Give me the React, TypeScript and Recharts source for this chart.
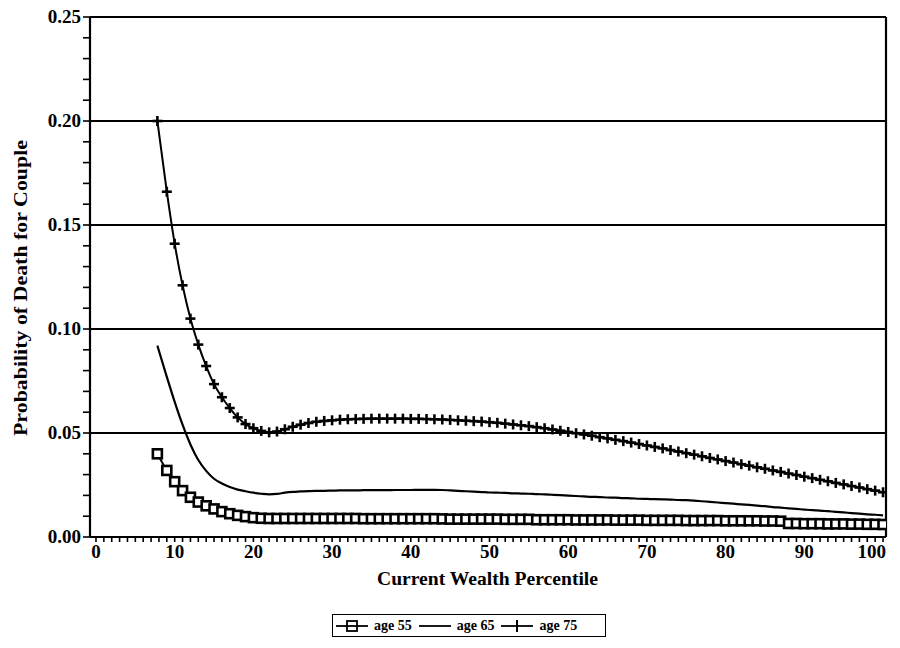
import React from 'react';
import { LineChart, Line, XAxis, YAxis, ReferenceLine } from 'recharts';

const FONT = '"Liberation Serif", "Times New Roman", serif';

// Current wealth percentile (x)
const xs = [7.8, 9, 10, 11, 12, 13, 14, 15, 16, 17, 18, 19, 20, 21, 22, 23, 24, 25, 26, 27, 28, 29, 30,
  31, 32, 33, 34, 35, 36, 37, 38, 39, 40, 41, 42, 43, 44, 45, 46, 47, 48, 49, 50,
  51, 52, 53, 54, 55, 56, 57, 58, 59, 60, 61, 62, 63, 64, 65, 66, 67, 68, 69, 70,
  71, 72, 73, 74, 75, 76, 77, 78, 79, 80, 81, 82, 83, 84, 85, 86, 87, 88, 89, 90,
  91, 92, 93, 94, 95, 96, 97, 98, 99, 100];

const age55 = [0.0400, 0.0320, 0.0266, 0.0223, 0.0191, 0.0168, 0.0150, 0.0135, 0.0122, 0.0112, 0.0104, 0.0098, 0.0093,
  0.0090, 0.0089, 0.0089, 0.0089, 0.0089, 0.0089, 0.0089, 0.0089, 0.0089, 0.0089,
  0.0089, 0.0089, 0.0089, 0.0088, 0.0088, 0.0088, 0.0088, 0.0088, 0.0088, 0.0088, 0.0088, 0.0088, 0.0088, 0.0087, 0.0086, 0.0086, 0.0086, 0.0086, 0.0086, 0.0086,
  0.0086, 0.0085, 0.0085, 0.0085, 0.0085, 0.0083, 0.0083, 0.0083, 0.0083, 0.0083, 0.0082, 0.0082, 0.0082, 0.0082, 0.0082, 0.0081, 0.0081, 0.0081, 0.0081, 0.0080,
  0.0080, 0.0080, 0.0080, 0.0080, 0.0079, 0.0079, 0.0079, 0.0079, 0.0079, 0.0078, 0.0078, 0.0078, 0.0078, 0.0078, 0.0077, 0.0077, 0.0076, 0.0065, 0.0065, 0.0064,
  0.0064, 0.0064, 0.0063, 0.0063, 0.0063, 0.0062, 0.0062, 0.0061, 0.0061, 0.0060];

const age65 = [0.092, 0.077, 0.065, 0.054, 0.0445, 0.037, 0.0318, 0.0280, 0.0257, 0.0240, 0.0228, 0.0220, 0.0213,
  0.0208, 0.0205, 0.0207, 0.0213, 0.0217, 0.0219, 0.0221, 0.0222, 0.0222, 0.0223,
  0.0224, 0.0224, 0.0224, 0.0225, 0.0225, 0.0225, 0.0225, 0.0226, 0.0226, 0.0226, 0.0227, 0.0227, 0.0227, 0.0226, 0.0224, 0.0222, 0.0220, 0.0218, 0.0216, 0.0214,
  0.0213, 0.0212, 0.0210, 0.0209, 0.0208, 0.0206, 0.0205, 0.0203, 0.0201, 0.0199, 0.0197, 0.0195, 0.0193, 0.0192, 0.0190, 0.0189, 0.0187, 0.0186, 0.0184, 0.0183,
  0.0182, 0.0181, 0.0180, 0.0178, 0.0177, 0.0175, 0.0172, 0.0169, 0.0166, 0.0163, 0.0160, 0.0157, 0.0154, 0.0151, 0.0148, 0.0144, 0.0141, 0.0138, 0.0135, 0.0132,
  0.0129, 0.0127, 0.0124, 0.0121, 0.0118, 0.0115, 0.0112, 0.0109, 0.0107, 0.0104];

const age75 = [0.200, 0.166, 0.141, 0.121, 0.105, 0.0925, 0.0822, 0.0735, 0.0672, 0.0620, 0.0575, 0.0543, 0.0523,
  0.0510, 0.0503, 0.0507, 0.0518, 0.0530, 0.0540, 0.0548, 0.0554, 0.0558, 0.0561,
  0.0564, 0.0566, 0.0567, 0.0568, 0.0569, 0.0569, 0.0569, 0.0569, 0.0569, 0.0568, 0.0568, 0.0567, 0.0566, 0.0565, 0.0563, 0.0561, 0.0559, 0.0557, 0.0555, 0.0552,
  0.0549, 0.0545, 0.0541, 0.0537, 0.0533, 0.0528, 0.0523, 0.0517, 0.0511, 0.0505, 0.0499, 0.0493, 0.0487, 0.0480, 0.0474, 0.0467, 0.0461, 0.0454, 0.0447, 0.0440,
  0.0433, 0.0426, 0.0418, 0.0411, 0.0403, 0.0396, 0.0388, 0.0380, 0.0373, 0.0365, 0.0358, 0.0350, 0.0343, 0.0335, 0.0328, 0.0320, 0.0313, 0.0305, 0.0298, 0.0290,
  0.0283, 0.0275, 0.0268, 0.0260, 0.0253, 0.0245, 0.0238, 0.0230, 0.0223, 0.0215];

const seriesNames = ['age 55', 'age 65', 'age 75'];
const xTickLabels = [0, 10, 20, 30, 40, 50, 60, 70, 80, 90, 100];
const yTickLabels = [0, 0.05, 0.1, 0.15, 0.2, 0.25];
const gridValues = [0.05, 0.1, 0.15, 0.2, 0.25];
const xMinorTicks = Array.from({ length: 101 }, (_, i) => i);
const yMinorTicks = Array.from({ length: 26 }, (_, i) => i / 100);

const X_MIN = -0.76;
const X_MAX = 100.38;

const data = xs.map((x, i) => ({ x, a55: age55[i], a65: age65[i], a75: age75[i] }));

const SquareDot = (p: any) => {
  if (p.cx == null || p.cy == null) return <g key={`s${p.index}`} />;
  return (
    <rect key={`s${p.index}`} x={p.cx - 4.5} y={p.cy - 4.5} width={9} height={9}
      fill="#fff" stroke="#000" strokeWidth={2.6} />
  );
};

const PlusDot = (p: any) => {
  if (p.cx == null || p.cy == null) return <g key={`p${p.index}`} />;
  return (
    <g key={`p${p.index}`}>
      <line x1={p.cx - 5} x2={p.cx + 5} y1={p.cy} y2={p.cy} stroke="#000" strokeWidth={2.6} />
      <line x1={p.cx} x2={p.cx} y1={p.cy - 5} y2={p.cy + 5} stroke="#000" strokeWidth={2.6} />
    </g>
  );
};

const isLabelX = (v: number) => xTickLabels.some((t) => Math.abs(t - v) < 1e-9);
const isLabelY = (v: number) => yTickLabels.some((t) => Math.abs(t - v) < 1e-9);
const lastX = xTickLabels[xTickLabels.length - 1];

const XTick = (p: any) => {
  const v = p.payload?.value;
  if (!isLabelX(v)) return <g />;
  const isLast = Math.abs(v - lastX) < 1e-9;
  return (
    <text x={isLast ? p.x + 3 : p.x} y={p.y + 14} textAnchor={isLast ? 'end' : 'middle'}
      fontFamily={FONT} fontWeight="bold" fontSize={19} fill="#000">
      {String(v)}
    </text>
  );
};

const YTick = (p: any) => {
  const v = p.payload?.value;
  if (!isLabelY(v)) return <g />;
  return (
    <text x={p.x} y={p.y + 6} textAnchor="end" fontFamily={FONT} fontWeight="bold" fontSize={19} fill="#000">
      {v.toFixed(2)}
    </text>
  );
};

const LegendIcon = ({ kind }: { kind: string }) => (
  <svg width={34} height={14} style={{ display: 'block' }}>
    <line x1={1} x2={33} y1={7} y2={7} stroke="#000" strokeWidth={1.8} />
    {kind === 'age 55' && <rect x={12} y={2} width={10} height={10} fill="#fff" stroke="#000" strokeWidth={1.8} />}
    {kind === 'age 55' && <line x1={12} x2={22} y1={7} y2={7} stroke="#000" strokeWidth={1.8} />}
    {kind === 'age 75' && <line x1={17} x2={17} y1={1} y2={13} stroke="#000" strokeWidth={2} />}
  </svg>
);

export default function App() {
  return (
    <div style={{ position: 'relative', width: 892, height: 630, background: '#fff' }}>
      <LineChart width={892} height={630} data={data} margin={{ top: 9, right: 14, bottom: 0, left: 0 }}>
        <XAxis
          dataKey="x"
          type="number"
          domain={[X_MIN, X_MAX]}
          allowDataOverflow
          ticks={xMinorTicks}
          interval={0}
          tick={<XTick />}
          tickSize={5}
          tickMargin={2}
          height={101}
          axisLine={{ stroke: '#000', strokeWidth: 2.2 }}
          tickLine={{ stroke: '#000', strokeWidth: 1.6 }}
          label={{
            content: () => (
              <text x={479.5} y={570} textAnchor="middle" dominantBaseline="central"
                fontFamily={FONT} fontWeight="bold" fontSize={19} fill="#000"
                textLength={221} lengthAdjust="spacingAndGlyphs">
                Current Wealth Percentile
              </text>
            ),
          }}
        />
        <YAxis
          type="number"
          domain={[0, 0.25]}
          ticks={yMinorTicks}
          interval={0}
          tick={<YTick />}
          tickSize={7}
          tickMargin={2}
          width={82}
          axisLine={{ stroke: '#000', strokeWidth: 2.2 }}
          tickLine={{ stroke: '#000', strokeWidth: 1.6 }}
          label={{
            content: () => (
              <text x={12} y={280} transform="rotate(-90 12 280)" textAnchor="middle" dominantBaseline="central"
                fontFamily={FONT} fontWeight="bold" fontSize={19} fill="#000"
                textLength={296} lengthAdjust="spacingAndGlyphs">
                Probability of Death for Couple
              </text>
            ),
          }}
        />
        {gridValues.map((g) => (
          <ReferenceLine key={g} y={g} stroke="#000" strokeWidth={2} />
        ))}
        <ReferenceLine x={X_MAX} stroke="#000" strokeWidth={2.2} />
        <Line name={seriesNames[1]} dataKey="a65" type="monotone" stroke="#000" strokeWidth={2.2} dot={false} isAnimationActive={false} />
        <Line name={seriesNames[0]} dataKey="a55" type="monotone" stroke="#000" strokeWidth={2} dot={SquareDot} isAnimationActive={false} />
        <Line name={seriesNames[2]} dataKey="a75" type="monotone" stroke="#000" strokeWidth={2} dot={PlusDot} isAnimationActive={false} />
      </LineChart>
      <div style={{
        position: 'absolute', left: 324, top: 606, width: 270, height: 21,
        border: '1.5px solid #000', display: 'flex', alignItems: 'center',
        fontFamily: FONT, fontWeight: 'bold', fontSize: 14, color: '#000', paddingLeft: 2, boxSizing: 'content-box',
        background: '#fff',
      }}>
        {seriesNames.map((n) => (
          <div key={n} style={{ display: 'flex', alignItems: 'center', marginRight: 6 }}>
            <LegendIcon kind={n} />
            <span style={{ marginLeft: 5, whiteSpace: 'nowrap' }}>{n}</span>
          </div>
        ))}
      </div>
    </div>
  );
}
